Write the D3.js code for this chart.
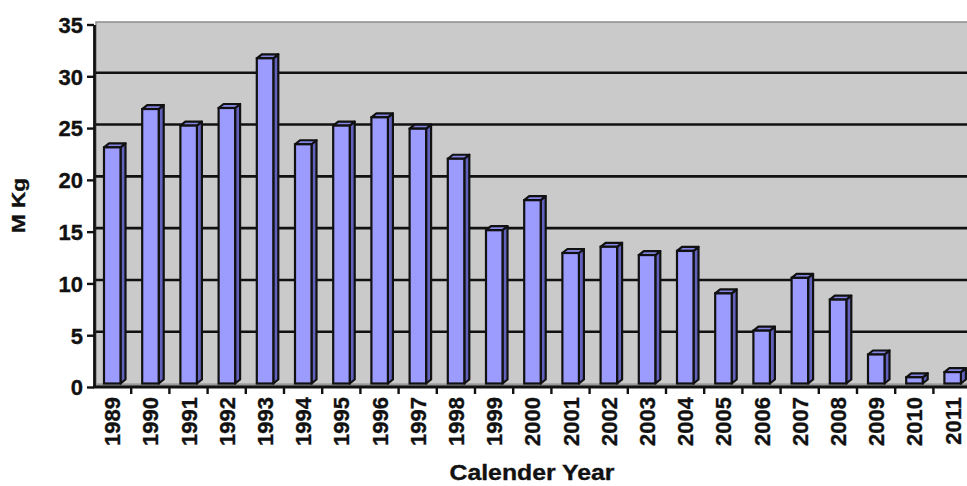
<!DOCTYPE html>
<html>
<head>
<meta charset="utf-8">
<script src="https://cdn.jsdelivr.net/npm/d3@7"></script>
<style>
  html, body { margin: 0; padding: 0; background: #ffffff; }
  svg { display: block; }
  text { font-family: "Liberation Sans", Arial, sans-serif; font-weight: bold; fill: #111; stroke: #111; stroke-width: 0.35px; }
</style>
</head>
<body>
<svg id="chart" width="967" height="486"></svg>
<script>
// Annual quantity, million kilograms, by calendar year
const years = ["1989","1990","1991","1992","1993","1994","1995","1996","1997","1998","1999",
               "2000","2001","2002","2003","2004","2005","2006","2007","2008","2009","2010","2011"];
const values = [22.8, 26.5, 24.9, 26.6, 31.4, 23.1, 24.9, 25.7, 24.6, 21.7, 14.8,
                17.7, 12.6, 13.2, 12.4, 12.8, 8.7, 5.1, 10.2, 8.1, 2.8, 0.6, 1.1];
const yTicks = [0, 5, 10, 15, 20, 25, 30, 35];
const yTitle = "M Kg";
const xTitle = "Calender Year";

const W = 967, H = 486;
const left = 93, bandW = 38.2;
const wallShift = 3.5;           // back wall sits a little above the axis ticks
const depthX = 5, depthY = 4;    // 3-D depth of each column
const frontInset = 11, frontW = 16.5;

const svg = d3.select("#chart");

const x = d3.scaleBand().domain(years).range([left, left + bandW * years.length]).padding(0);
const y = d3.scaleLinear().domain([0, 35]).range([387, 24.5]);

// back wall
svg.append("rect")
  .attr("x", left + 3).attr("y", y(35) - wallShift + 1)
  .attr("width", W - left).attr("height", y(0) - y(35))
  .attr("fill", "#cacaca")
  .attr("stroke", "#8c8c8c").attr("stroke-width", 1.5);

// floor strip
svg.append("path")
  .attr("d", `M${left},${y(0)} L${W},${y(0)} L${W},${y(0) - wallShift} L${left + 3},${y(0) - wallShift} Z`)
  .attr("fill", "#9a9a9a");

// gridlines on the back wall
svg.append("g").selectAll("line")
  .data(yTicks.filter(t => t > 0 && t < 35))
  .join("line")
  .attr("x1", left + 3).attr("x2", W)
  .attr("y1", d => y(d) - wallShift).attr("y2", d => y(d) - wallShift)
  .attr("stroke", "#111").attr("stroke-width", 2.6);

// columns: side, top and front faces
const bars = svg.append("g").selectAll("g")
  .data(years.map((yr, i) => ({ yr, v: values[i] })))
  .join("g");

bars.each(function (d) {
  const g = d3.select(this);
  const x0 = x(d.yr) + frontInset, x1 = x0 + frontW;
  const yb = y(0) - wallShift, yt = y(d.v) - wallShift;
  g.append("path")
    .attr("d", `M${x1},${yt} L${x1 + depthX},${yt - depthY} L${x1 + depthX},${yb - depthY} L${x1},${yb} Z`)
    .attr("fill", "#6262bd").attr("stroke", "#111").attr("stroke-width", 2.2).attr("stroke-linejoin", "round");
  g.append("path")
    .attr("d", `M${x0},${yt} L${x0 + depthX},${yt - depthY} L${x1 + depthX},${yt - depthY} L${x1},${yt} Z`)
    .attr("fill", "#8484e4").attr("stroke", "#111").attr("stroke-width", 2.2).attr("stroke-linejoin", "round");
  g.append("rect")
    .attr("x", x0).attr("y", yt).attr("width", frontW).attr("height", yb - yt)
    .attr("fill", "#9c9cff").attr("stroke", "#111").attr("stroke-width", 2.2);
});

// y axis
const yAxis = svg.append("g")
  .attr("transform", `translate(${left + 1},0)`)
  .call(d3.axisLeft(y).tickValues(yTicks).tickSize(7).tickPadding(4).tickSizeOuter(0));
yAxis.select(".domain").attr("stroke", "#111").attr("stroke-width", 2.8);
yAxis.selectAll(".tick line").attr("stroke", "#111").attr("stroke-width", 2.4);
yAxis.selectAll(".tick text")
  .attr("font-size", 22).attr("font-family", "Liberation Sans, Arial, sans-serif")
  .attr("font-weight", "bold").attr("fill", "#111").attr("dy", "0.36em");

// x axis: line, boundary ticks, rotated year labels
svg.append("line")
  .attr("x1", left).attr("x2", W).attr("y1", y(0)).attr("y2", y(0))
  .attr("stroke", "#111").attr("stroke-width", 2.8);
svg.append("g").selectAll("line")
  .data(years.slice(1))
  .join("line")
  .attr("x1", d => x(d)).attr("x2", d => x(d))
  .attr("y1", y(0)).attr("y2", y(0) + 7)
  .attr("stroke", "#111").attr("stroke-width", 2.4);
svg.append("g").selectAll("text")
  .data(years)
  .join("text")
  .attr("transform", d => `translate(${x(d) + x.bandwidth() / 2 + 8},${y(0) + 10}) rotate(-90)`)
  .attr("text-anchor", "end")
  .attr("font-size", 22)
  .text(d => d);

// axis titles
svg.append("text")
  .attr("x", 532).attr("y", 480)
  .attr("text-anchor", "middle")
  .attr("font-size", 22)
  .attr("textLength", 165).attr("lengthAdjust", "spacingAndGlyphs")
  .text(xTitle);
svg.append("text")
  .attr("transform", `translate(25,205.5) rotate(-90)`)
  .attr("text-anchor", "middle")
  .attr("font-size", 18)
  .attr("textLength", 55).attr("lengthAdjust", "spacingAndGlyphs")
  .text(yTitle);
</script>
</body>
</html>
